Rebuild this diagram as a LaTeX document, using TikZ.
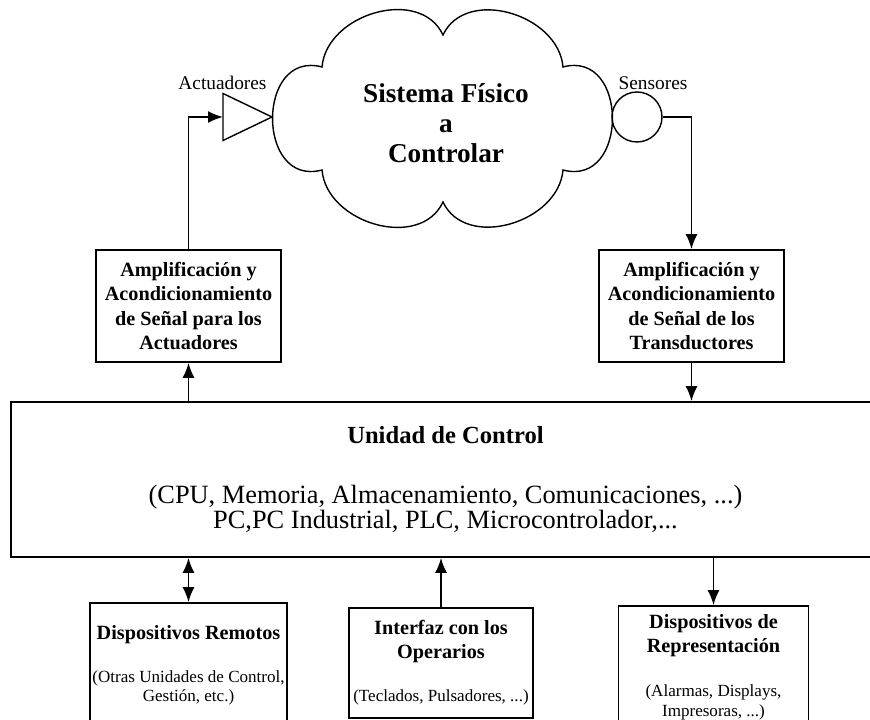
\documentclass[tikz,border=0pt]{standalone}
\usepackage{fontspec}
\setmainfont{Liberation Serif}
\usetikzlibrary{arrows.meta}

\newcommand{\detalle}[1]{{\mdseries\fontsize{9.7}{11}\selectfont #1}}

\begin{document}
\begin{tikzpicture}[line width=1pt, >={Latex[length=3mm,width=2.4mm]},
  caja/.style={draw, align=center, inner sep=0pt},
  amp/.style={caja, minimum width=3.7cm, minimum height=2.24cm,
    font=\bfseries\fontsize{11.5}{13.9}\selectfont},
  disp/.style={caja, font=\bfseries\fontsize{11.5}{13.9}\selectfont},
  etiqueta/.style={font=\fontsize{11}{13}\selectfont}]
\useasboundingbox (0,0) rectangle (17.4,14.4);

% Physical system
\draw[thick] (6.44,13.06) to[out=85,in=115,looseness=1.1] (8.86,13.7)
    to[out=65,in=95,looseness=1.1] (11.26,13.06)
    to[out=15,in=-15,looseness=1.7] (11.26,11.0)
    to[out=-95,in=-65,looseness=1.1] (8.86,10.36)
    to[out=-115,in=-85,looseness=1.1] (6.44,11.0)
    to[out=195,in=165,looseness=1.7] cycle;
\node[align=center, font=\bfseries\fontsize{15.5}{17}\selectfont] (planta) at (8.92,11.94)
    {Sistema Físico\\a\\Controlar};

% Actuator and sensor
\draw[thick] (4.46,12.53) -- (5.44,12.06) -- (4.46,11.59) -- cycle;
\coordinate (actuador) at (4.46,12.06);
\node[etiqueta] (actlabel) at (4.45,12.74) {Actuadores};
\node[draw, thick, circle, minimum size=1cm, inner sep=0pt] (sensor) at (12.74,12.06) {};
\node[etiqueta] (senlabel) at (13.06,12.74) {Sensores};

% Signal conditioning
\node[amp] (ampact) at (3.77,8.28) {Amplificación y\\Acondicionamiento\\de Señal para los\\Actuadores};
\node[amp] (ampsen) at (13.83,8.28) {Amplificación y\\Acondicionamiento\\de Señal de los\\Transductores};

% Control unit
\node[caja, minimum width=17.38cm, minimum height=3.1cm, font=\fontsize{15}{14.2}\selectfont] (control) at (8.91,4.81)
    {{\bfseries\fontsize{14}{16}\selectfont Unidad de Control}\\[19.9pt]
    (CPU, Memoria, Almacenamiento, Comunicaciones, ...)\\
    PC,PC Industrial, PLC, Microcontrolador,...};

% Devices
\node[disp, minimum width=3.94cm, minimum height=2.48cm] (remotos) at (3.77,1.1)
    {Dispositivos Remotos\\[11pt]\detalle{(Otras Unidades de Control,}\\[-3.5pt]\detalle{Gestión, etc.)}};
\node[disp, minimum width=3.67cm, minimum height=2.2cm] (operarios) at (8.82,1.146)
    {Interfaz con los\\Operarios\\[10.5pt]\detalle{(Teclados, Pulsadores, ...)}};
\node[disp, minimum width=3.8cm, minimum height=2.44cm] (represent) at (14.27,1.06)
    {Dispositivos de\\Representación\\[11pt]\detalle{(Alarmas, Displays,}\\[-2.5pt]\detalle{Impresoras, ...)}};

% Connections
\draw[->] (ampact.north) |- (actuador);
\draw[->] (sensor.east) -| (ampsen.north);
\draw[->] (control.north -| ampact.south) -- (ampact.south);
\draw[->] (ampsen.south) -- (control.north -| ampsen.south);
\draw[<->] (control.south -| remotos.north) -- (remotos.north);
\draw[->] (operarios.north) -- (control.south -| operarios.north);
\draw[->] (control.south -| represent.north) -- (represent.north);

\end{tikzpicture}
\end{document}
